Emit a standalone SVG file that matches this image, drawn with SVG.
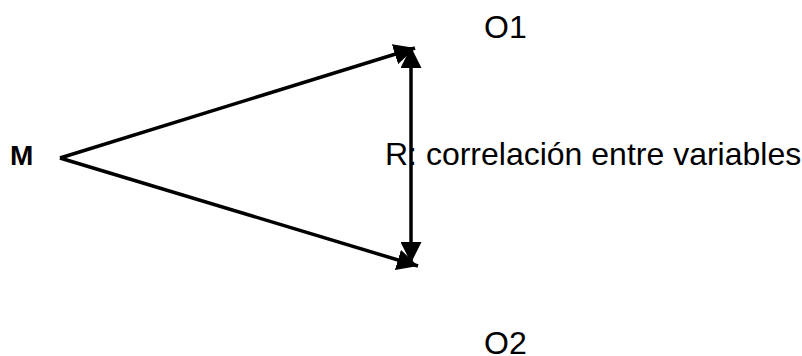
<svg xmlns="http://www.w3.org/2000/svg" width="802" height="356" viewBox="0 0 802 356">
<defs>
<marker id="ah" viewBox="0 0 10 10" refX="10" refY="5" markerWidth="6" markerHeight="6" markerUnits="strokeWidth" orient="auto-start-reverse">
<path d="M0,0 L10,5 L0,10 z" fill="#000"/>
</marker>
<style>
.t{font-family:"Liberation Sans",Arial,sans-serif;font-size:32px;fill:#000}
.b{font-family:"Liberation Sans",Arial,sans-serif;font-size:28px;font-weight:bold;fill:#000}
.c{stroke:#000;stroke-width:3.5;fill:none}
</style>
</defs>
<rect width="802" height="356" fill="#fff"/>
<g id="node-M"><text class="b" x="10" y="165">M</text></g>
<g id="node-O1"><text class="t" x="484" y="38">O1</text></g>
<g id="node-O2"><text class="t" x="484" y="354">O2</text></g>
<g id="node-R"><text class="t" x="385" y="165">R: correlación entre variables</text></g>
<g id="connectors">
<line class="c" x1="60" y1="158" x2="415" y2="48" marker-end="url(#ah)"/>
<line class="c" x1="60" y1="158" x2="418" y2="266" marker-end="url(#ah)"/>
<line class="c" x1="411" y1="47" x2="411" y2="263" marker-start="url(#ah)" marker-end="url(#ah)"/>
</g>
</svg>
